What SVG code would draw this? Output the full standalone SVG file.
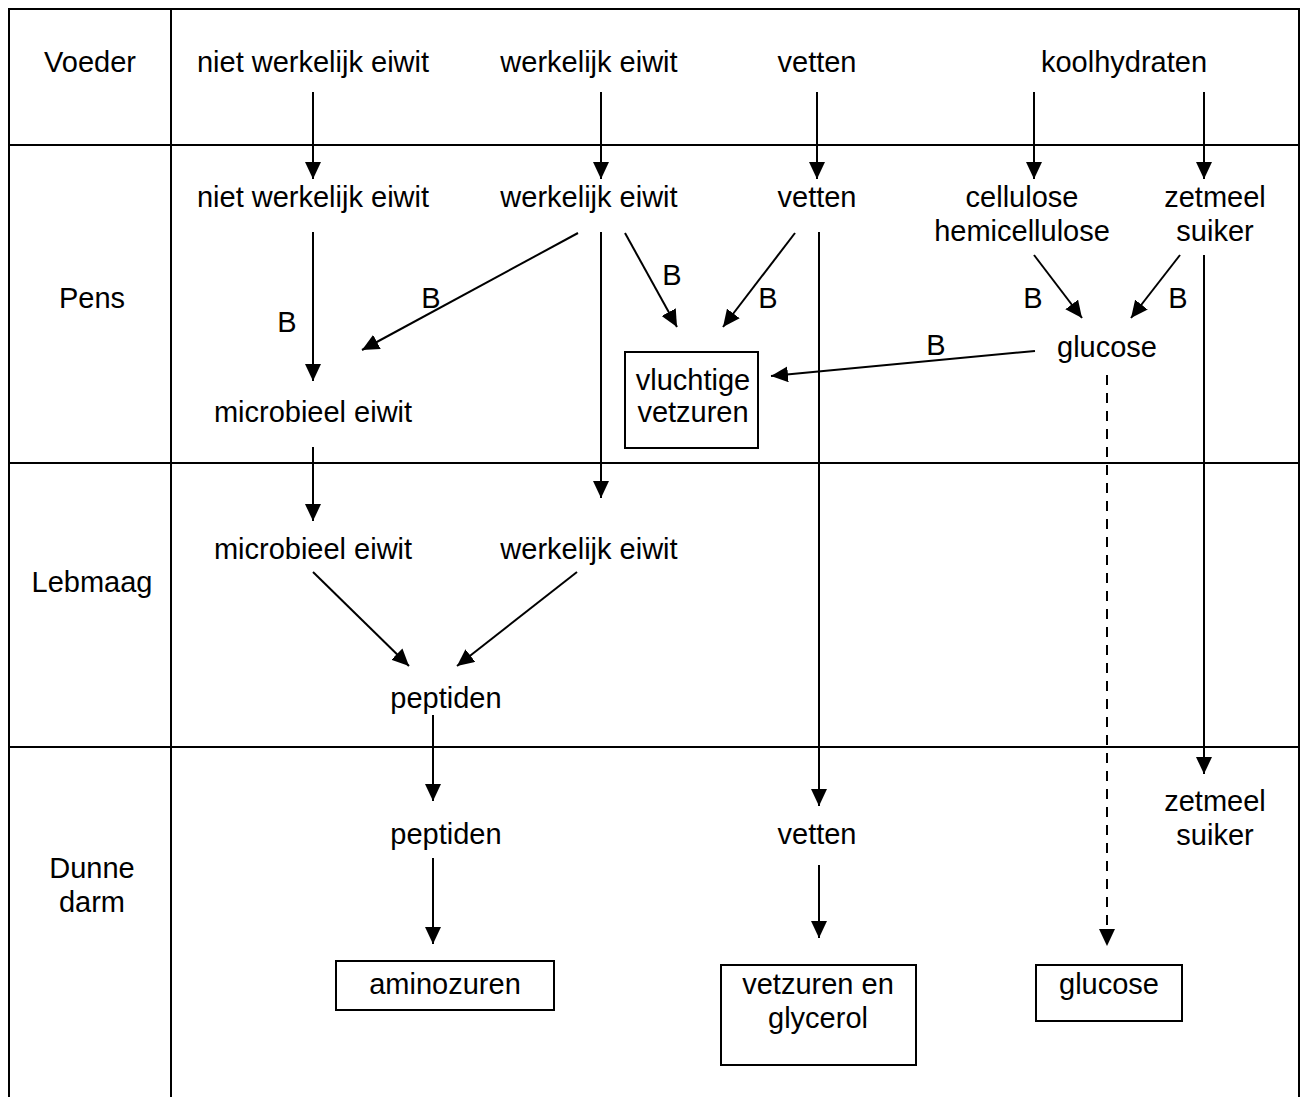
<svg xmlns="http://www.w3.org/2000/svg" width="1306" height="1097" viewBox="0 0 1306 1097">
<defs>
<style>
text{font-family:"Liberation Sans",Arial,sans-serif;font-size:29px;fill:#000;text-anchor:middle}
.grid{stroke:#000;stroke-width:2;fill:none}
.c{stroke:#000;stroke-width:2;fill:none;marker-end:url(#ah)}
.d{stroke-dasharray:10,8}
.box{fill:#fff;stroke:#000;stroke-width:2}
</style>
<marker id="ah" markerUnits="userSpaceOnUse" markerWidth="17" markerHeight="16" refX="17" refY="8" orient="auto">
<path d="M0,0 L17,8 L0,16 z" fill="#000"/>
</marker>
</defs>
<rect width="1306" height="1097" fill="#fff"/>
<g id="grid" class="grid">
<path d="M9,1097 V9 H1299 V1097"/>
<path d="M171,9 V1097"/>
<path d="M9,145 H1299 M9,463 H1299 M9,747 H1299"/>
</g>
<g id="labels">
<text x="90" y="72">Voeder</text>
<text x="92" y="308">Pens</text>
<text x="92" y="592">Lebmaag</text>
<text x="92" y="878">Dunne</text>
<text x="92" y="912">darm</text>
</g>
<g id="connectors">
<line class="c" x1="313" y1="92" x2="313" y2="179"/>
<line class="c" x1="601" y1="92" x2="601" y2="179"/>
<line class="c" x1="817" y1="92" x2="817" y2="179"/>
<line class="c" x1="1034" y1="92" x2="1034" y2="179"/>
<line class="c" x1="1204" y1="92" x2="1204" y2="179"/>
<line class="c" x1="313" y1="232" x2="313" y2="381"/>
<line class="c" x1="578" y1="233" x2="362" y2="350"/>
<line class="c" x1="601" y1="232" x2="601" y2="498"/>
<line class="c" x1="625" y1="233" x2="677" y2="327"/>
<line class="c" x1="795" y1="233" x2="723" y2="327"/>
<line class="c" x1="819" y1="232" x2="819" y2="806"/>
<line class="c" x1="1034" y1="255" x2="1082" y2="318"/>
<line class="c" x1="1180" y1="255" x2="1131" y2="318"/>
<line class="c" x1="1204" y1="255" x2="1204" y2="774"/>
<line class="c" x1="1035" y1="351" x2="771" y2="376"/>
<line class="c d" x1="1107" y1="375" x2="1107" y2="946"/>
<line class="c" x1="313" y1="447" x2="313" y2="521"/>
<line class="c" x1="313" y1="572" x2="409" y2="666"/>
<line class="c" x1="577" y1="572" x2="457" y2="666"/>
<line class="c" x1="433" y1="715" x2="433" y2="801"/>
<line class="c" x1="433" y1="858" x2="433" y2="944"/>
<line class="c" x1="819" y1="865" x2="819" y2="938"/>
</g>
<g id="blabels">
<text x="287" y="332">B</text>
<text x="431" y="308">B</text>
<text x="672" y="285">B</text>
<text x="768" y="308">B</text>
<text x="1033" y="308">B</text>
<text x="1178" y="308">B</text>
<text x="936" y="355">B</text>
</g>
<g id="n-voeder-nwe"><text x="313" y="72">niet werkelijk eiwit</text></g>
<g id="n-voeder-we"><text x="589" y="72">werkelijk eiwit</text></g>
<g id="n-voeder-vetten"><text x="817" y="72">vetten</text></g>
<g id="n-voeder-kh"><text x="1124" y="72">koolhydraten</text></g>
<g id="n-pens-nwe"><text x="313" y="207">niet werkelijk eiwit</text></g>
<g id="n-pens-we"><text x="589" y="207">werkelijk eiwit</text></g>
<g id="n-pens-vetten"><text x="817" y="207">vetten</text></g>
<g id="n-pens-cell"><text x="1022" y="207">cellulose</text><text x="1022" y="241">hemicellulose</text></g>
<g id="n-pens-zet"><text x="1215" y="207">zetmeel</text><text x="1215" y="241">suiker</text></g>
<g id="n-pens-glucose"><text x="1107" y="357">glucose</text></g>
<g id="n-pens-vvz"><rect class="box" x="625" y="352" width="133" height="96"/><text x="693" y="390">vluchtige</text><text x="693" y="422">vetzuren</text></g>
<g id="n-pens-me"><text x="313" y="422">microbieel eiwit</text></g>
<g id="n-leb-me"><text x="313" y="559">microbieel eiwit</text></g>
<g id="n-leb-we"><text x="589" y="559">werkelijk eiwit</text></g>
<g id="n-leb-pep"><text x="446" y="708">peptiden</text></g>
<g id="n-dd-pep"><text x="446" y="844">peptiden</text></g>
<g id="n-dd-vetten"><text x="817" y="844">vetten</text></g>
<g id="n-dd-zet"><text x="1215" y="811">zetmeel</text><text x="1215" y="845">suiker</text></g>
<g id="n-dd-amino"><rect class="box" x="336" y="961" width="218" height="49"/><text x="445" y="994">aminozuren</text></g>
<g id="n-dd-vzg"><rect class="box" x="721" y="965" width="195" height="100"/><text x="818" y="994">vetzuren en</text><text x="818" y="1028">glycerol</text></g>
<g id="n-dd-glucose"><rect class="box" x="1036" y="965" width="146" height="56"/><text x="1109" y="994">glucose</text></g>
</svg>
